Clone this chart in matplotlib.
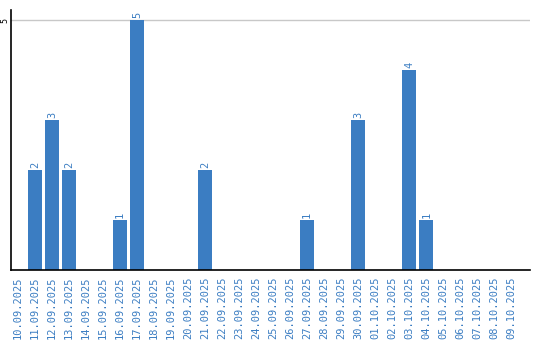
import matplotlib
matplotlib.use("Agg")
import matplotlib.pyplot as plt
import numpy as np

dates = ["10.09.2025", "11.09.2025", "12.09.2025", "13.09.2025", "14.09.2025",
         "15.09.2025", "16.09.2025", "17.09.2025", "18.09.2025", "19.09.2025",
         "20.09.2025", "21.09.2025", "22.09.2025", "23.09.2025", "24.09.2025",
         "25.09.2025", "26.09.2025", "27.09.2025", "28.09.2025", "29.09.2025",
         "30.09.2025", "01.10.2025", "02.10.2025", "03.10.2025", "04.10.2025",
         "05.10.2025", "06.10.2025", "07.10.2025", "08.10.2025", "09.10.2025"]
counts = [0, 2, 3, 2, 0, 0, 1, 5, 0, 0, 0, 2, 0, 0, 0,
          0, 0, 1, 0, 0, 3, 0, 0, 4, 1, 0, 0, 0, 0, 0]

blue = "#3b7dc2"

fig = plt.figure(figsize=(5.4, 3.4), dpi=100)
ax = fig.add_axes([11 / 540, 70 / 340, 519 / 540, 260 / 340])

x = np.arange(len(dates))
ax.bar(x, counts, width=0.82, color=blue, zorder=2)

for xi, c in zip(x, counts):
    if c > 0:
        ax.text(xi, c + 0.04, str(c), rotation=90, ha="center", va="bottom",
                color=blue, fontsize=7.5, family="DejaVu Sans Mono")

ax.set_xlim(-0.41, 30.1)
ax.set_ylim(0, 5.2)
ax.set_yticks([5])
ax.set_yticklabels(["5"], rotation=90, va="center", fontsize=6,
                   family="DejaVu Sans Mono")
ax.tick_params(axis="y", length=0, pad=1.5)
ax.axhline(5, color="#c8c8c8", lw=1, zorder=1)

ax.set_xticks(x)
ax.set_xticklabels(dates, rotation=90, fontsize=7.5, color=blue,
                   family="DejaVu Sans Mono")
ax.tick_params(axis="x", length=0, pad=5)

ax.spines["top"].set_visible(False)
ax.spines["right"].set_visible(False)
ax.spines["left"].set_linewidth(1.2)
ax.spines["bottom"].set_linewidth(1.2)

fig.savefig("out.png", dpi=100)
